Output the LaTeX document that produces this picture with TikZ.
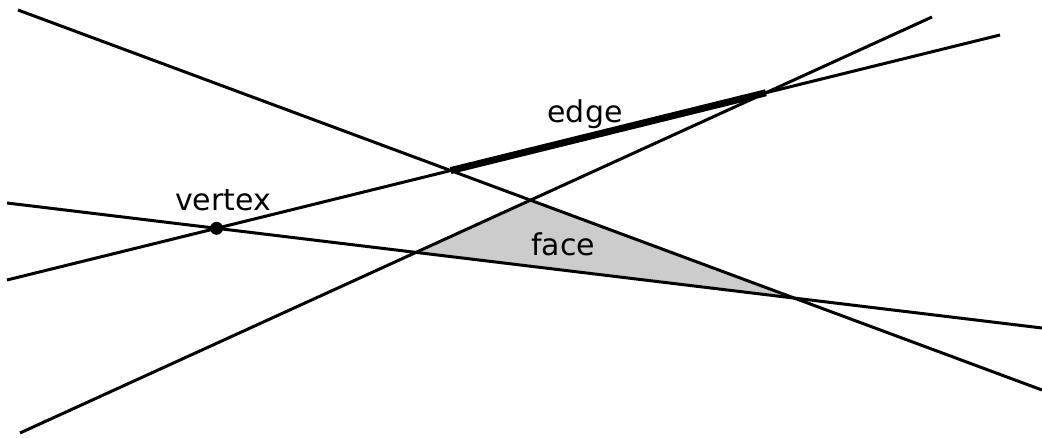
\documentclass[tikz,border=0pt]{standalone}
\usepackage{fontspec}
\setmainfont{DejaVu Sans}
\begin{document}
\begin{tikzpicture}[x=1pt,y=-1pt,
  ln/.style={line width=3pt,line cap=butt},
  lbl/.style={font=\fontsize{30}{35}\selectfont,inner sep=0pt}]
\useasboundingbox (0,0) rectangle (1042,438);
\coordinate (a1) at (18,10);   \coordinate (a2) at (1042,390);
\coordinate (b1) at (7,203);   \coordinate (b2) at (1042,328);
\coordinate (c1) at (7,280);   \coordinate (c2) at (1000,35);
\coordinate (d1) at (20,433);  \coordinate (d2) at (932,17);
\coordinate (ad) at (intersection of a1--a2 and d1--d2);
\coordinate (bd) at (intersection of b1--b2 and d1--d2);
\coordinate (ab) at (intersection of a1--a2 and b1--b2);
\coordinate (ac) at (intersection of a1--a2 and c1--c2);
\coordinate (cd) at (intersection of c1--c2 and d1--d2);
\coordinate (bc) at (intersection of b1--b2 and c1--c2);
\fill[black!20,draw=white,line width=2.5pt] (ad) -- (bd) -- (ab) -- cycle;
\draw[ln] (a1) -- (a2);
\draw[ln] (b1) -- (b2);
\draw[ln] (c1) -- (c2);
\draw[ln] (d1) -- (d2);
\draw[line width=7pt] (ac) -- (cd);
\fill (bc) circle (6.5);
\node[lbl] (edge) at (585,114) {edge};
\node[lbl] (face) at (563,244) {face};
\node[lbl] (vertex) at (223,200) {vertex};
\end{tikzpicture}
\end{document}
